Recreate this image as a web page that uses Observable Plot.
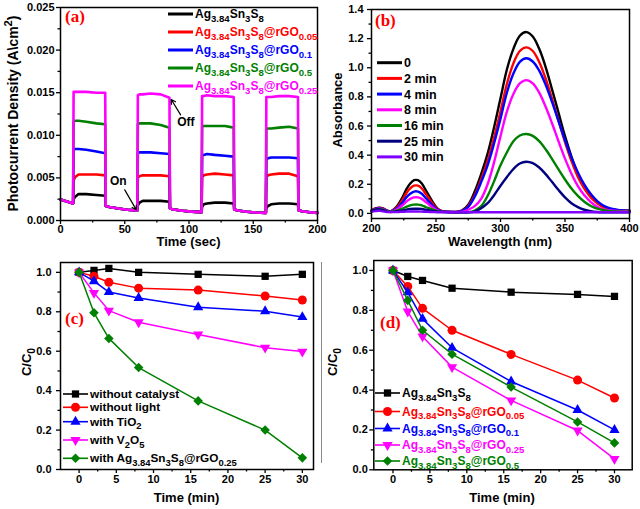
<!DOCTYPE html>
<html><head><meta charset="utf-8">
<script src="https://cdn.jsdelivr.net/npm/d3@7"></script>
<script src="https://cdn.jsdelivr.net/npm/@observablehq/plot@0.6"></script>
<style>
body{margin:0;background:#fff;}
#fig{position:relative;width:640px;height:509px;overflow:hidden;background:#fff;}
#divider{position:absolute;left:321px;top:262px;width:1px;height:201px;background:#8a8a8a;}
</style></head><body><div id="fig"><div id="divider"></div></div>
<script>
const FONT = "'Liberation Sans', Arial, Helvetica, sans-serif";
const SERIF = "'Liberation Serif', 'Times New Roman', serif";
const RED = "#ff0000", BLUE = "#0000ff", MAG = "#ff00ff", GRN = "#008000", NAVY = "#000080", VIO = "#8000ff", BLK = "#000000";

// ---------- Panel (a): photocurrent ----------
const aNames = ["Ag_{3.84}Sn_{3}S_{8}", "Ag_{3.84}Sn_{3}S_{8}@rGO_{0.05}", "Ag_{3.84}Sn_{3}S_{8}@rGO_{0.1}", "Ag_{3.84}Sn_{3}S_{8}@rGO_{0.5}", "Ag_{3.84}Sn_{3}S_{8}@rGO_{0.25}"];
const aColors = [BLK, RED, BLUE, GRN, MAG];
const aOnTimes = [10, 60, 110, 160];
const aCycleOffsets = [0.2, 1.5, 4, 10, 18, 24.8];
const aDark = [
  [[0,0.00246],[5,0.00222],[9.8,0.00200]],
  [[35.2,0.00170],[38,0.00158],[45,0.00140],[52,0.00127],[59.8,0.00118]],
  [[85.2,0.00142],[88,0.00130],[95,0.00114],[102,0.00104],[109.8,0.00098]],
  [[135.2,0.00130],[138,0.00118],[145,0.00103],[152,0.00094],[159.8,0.00090]],
  [[185.2,0.00120],[188,0.00108],[194,0.00096],[200,0.00090]]
];
const aPure = [[0.0025,0.0028,0.0031,0.0031,0.0030,0.0029],[0.0018,0.0021,0.0023,0.0023,0.0023,0.0022],[0.0016,0.0019,0.0020,0.0021,0.0021,0.0020],[0.0015,0.0017,0.0019,0.0020,0.0020,0.0019]];
const aG005 = [[0.0047,0.0051,0.0054,0.0054,0.0054,0.0053],[0.0050,0.0052,0.0053,0.0053,0.0053,0.0052],[0.0051,0.0053,0.0054,0.0055,0.0054,0.0053],[0.0051,0.0053,0.0054,0.0055,0.0055,0.0052]];
const aG01 = [[0.0083,0.0084,0.0084,0.0083,0.0081,0.0079],[0.0079,0.0080,0.0080,0.0080,0.0079,0.0078],[0.0076,0.0077,0.0078,0.0077,0.0076,0.0075],[0.0072,0.0073,0.0074,0.0074,0.0074,0.0073]];
const aG05 = [[0.0116,0.0117,0.0117,0.0116,0.0114,0.0113],[0.0113,0.0114,0.0114,0.0114,0.0112,0.0109],[0.0110,0.0111,0.0111,0.0111,0.0111,0.0109],[0.0107,0.0108,0.0108,0.0109,0.0110,0.0108]];
const aG025 = [[0.0151,0.0151,0.0151,0.0151,0.0150,0.0150],[0.0147,0.0148,0.0148,0.0149,0.0148,0.0144],[0.0146,0.0146,0.0147,0.0146,0.0146,0.0145],[0.0145,0.0145,0.0145,0.0146,0.0146,0.0145]];
const aSeriesValues = [aPure, aG005, aG01, aG05, aG025];
const aNotes = [{t:45, v:0.0046, label:"On"}, {t:97.5, v:0.0115, label:"Off"}];
const aArrows = [{t1:50, v1:0.0036, t2:59, v2:0.00125}, {t1:93.5, v1:0.0124, t2:86.2, v2:0.0142}];
const aXTicks = [0,50,100,150,200], aXMinor = [25,75,125,175];
const aYTicks = [0,0.005,0.01,0.015,0.02,0.025], aYMinor = [0.0025,0.0075,0.0125,0.0175,0.0225];

// ---------- Panel (b): absorbance spectra ----------
const bNames = ["0", "2 min", "4 min", "8 min", "16 min", "25 min", "30 min"];
const bColors = [BLK, RED, BLUE, MAG, GRN, NAVY, VIO];
const bWl = [200,203,206,209,212,215,218,221,224,227,230,233,236,239,242,245,248,251,254,257,260,265,270,275,280,285,290,295,300,305,310,315,320,325,330,335,340,345,350,355,360,365,370,375,380,385,390,395,400];
const b0 = [0.02,0.035,0.04,0.035,0.02, 0.015,0.032,0.065,0.11,0.165,0.205,0.228,0.228,0.205,0.16,0.115,0.07,0.035,0.018,0.012,0.01, 0.01,0.02,0.06,0.15,0.27,0.41,0.59,0.79,0.99,1.13,1.22,1.245, 1.215,1.13,1.005,0.85,0.69,0.53,0.39,0.27,0.18,0.12,0.075,0.045,0.03,0.022,0.02,0.018];
const b2 = [0.02,0.033,0.038,0.033,0.019, 0.014,0.028,0.055,0.093,0.138,0.171,0.19,0.19,0.171,0.134,0.097,0.06,0.031,0.017,0.012,0.01, 0.01,0.017,0.05,0.125,0.235,0.36,0.52,0.70,0.89,1.03,1.115,1.14, 1.115,1.04,0.925,0.785,0.635,0.49,0.36,0.25,0.17,0.11,0.07,0.043,0.03,0.023,0.02,0.018];
const b4 = [0.02,0.03,0.035,0.03,0.018, 0.013,0.024,0.045,0.074,0.11,0.135,0.15,0.15,0.135,0.106,0.077,0.049,0.026,0.015,0.011,0.01, 0.01,0.015,0.045,0.115,0.215,0.33,0.48,0.65,0.83,0.96,1.04,1.065, 1.043,0.98,0.883,0.764,0.633,0.503,0.383,0.281,0.197,0.133,0.085,0.053,0.035,0.026,0.021,0.019];
const b8 = [0.018,0.028,0.032,0.028,0.016, 0.012,0.02,0.035,0.056,0.081,0.1,0.11,0.11,0.1,0.079,0.058,0.038,0.021,0.014,0.011,0.01, 0.008,0.01,0.025,0.05,0.10,0.20,0.35,0.53,0.70,0.82,0.892,0.915, 0.893,0.829,0.732,0.617,0.494,0.376,0.273,0.188,0.124,0.078,0.046,0.028,0.02,0.016,0.015,0.014];
const b16 = [0.015,0.025,0.03,0.025,0.014, 0.011,0.015,0.023,0.033,0.045,0.055,0.06,0.06,0.055,0.044,0.034,0.024,0.016,0.012,0.01,0.01, 0.008,0.007,0.008,0.02,0.05,0.12,0.22,0.33,0.42,0.495,0.535,0.545, 0.532,0.496,0.44,0.373,0.302,0.233,0.171,0.12,0.08,0.051,0.033,0.022,0.016,0.013,0.012,0.012];
const b25 = [0.015,0.025,0.028,0.022,0.012, 0.01,0.012,0.016,0.02,0.026,0.03,0.032,0.032,0.03,0.025,0.02,0.016,0.012,0.011,0.01,0.01, 0.008,0.007,0.007,0.012,0.035,0.07,0.125,0.19,0.25,0.305,0.343,0.355, 0.345,0.315,0.27,0.215,0.16,0.11,0.07,0.043,0.025,0.015,0.01,0.008,0.007,0.007,0.007,0.007];
const b30 = [0.012,0.016,0.018,0.014,0.01, 0.009,0.009,0.01,0.011,0.012,0.013,0.013,0.013,0.012,0.011,0.01,0.009,0.008,0.008,0.008,0.008, 0.008,0.008,0.008,0.008,0.008,0.008,0.008,0.008,0.008,0.008,0.008,0.008, 0.008,0.008,0.008,0.008,0.008,0.008,0.008,0.008,0.008,0.008,0.008,0.008,0.008,0.008,0.008,0.008];
const bSeriesValues = [b0, b2, b4, b8, b16, b25, b30];
const bXTicks = [200,250,300,350,400], bXMinor = [225,275,325,375];
const bYTicks = [0,0.2,0.4,0.6,0.8,1.0,1.2,1.4], bYMinor = [0.1,0.3,0.5,0.7,0.9,1.1,1.3];

// ---------- Panel (c): control degradation ----------
const cTime = [0,2,4,8,16,25,30];
const cNames = ["without catalyst", "without light", "with TiO_{2}", "with V_{2}O_{5}", "with Ag_{3.84}Sn_{3}S_{8}@rGO_{0.25}"];
const cNoCat = [1.0,1.01,1.02,1.0,0.99,0.98,0.99];
const cNoLight = [1.0,0.98,0.95,0.92,0.91,0.88,0.86];
const cTiO2 = [1.0,0.955,0.90,0.87,0.823,0.803,0.773];
const cV2O5 = [1.0,0.896,0.806,0.747,0.685,0.618,0.598];
const cComp = [1.0,0.795,0.665,0.517,0.348,0.20,0.059];
const cSeriesValues = [cNoCat, cNoLight, cTiO2, cV2O5, cComp];
const cColors = [BLK, RED, BLUE, MAG, GRN];

// ---------- Panel (d): composite degradation ----------
const dTime = [0,2,4,8,16,25,30];
const dNames = ["Ag_{3.84}Sn_{3}S_{8}", "Ag_{3.84}Sn_{3}S_{8}@rGO_{0.05}", "Ag_{3.84}Sn_{3}S_{8}@rGO_{0.1}", "Ag_{3.84}Sn_{3}S_{8}@rGO_{0.25}", "Ag_{3.84}Sn_{3}S_{8}@rGO_{0.5}"];
const dPure = [1.0,0.97,0.95,0.911,0.891,0.88,0.87];
const d005 = [1.0,0.92,0.81,0.70,0.579,0.45,0.36];
const d01 = [1.0,0.89,0.757,0.612,0.443,0.30,0.20];
const d025 = [1.0,0.794,0.669,0.515,0.348,0.197,0.055];
const d05 = [1.0,0.85,0.70,0.58,0.415,0.24,0.135];
const dSeriesValues = [dPure, d005, d01, d025, d05];
const dColors = [BLK, RED, BLUE, MAG, GRN];

const cdXTicks = [0,5,10,15,20,25,30], cdXMinor = [2.5,7.5,12.5,17.5,22.5,27.5];
const cdYTicks = [0,0.2,0.4,0.6,0.8,1.0], cdYMinor = [0.1,0.3,0.5,0.7,0.9];

// ---------- helpers ----------
const sqrt3 = Math.sqrt(3);
const triangleDown = {draw(ctx, size) { const y = -Math.sqrt(size / (sqrt3 * 3)); ctx.moveTo(0, -y * 2); ctx.lineTo(-sqrt3 * y, y); ctx.lineTo(sqrt3 * y, y); ctx.closePath(); }};
const markerSyms = [d3.symbolSquare, d3.symbolCircle, d3.symbolTriangle, triangleDown, d3.symbolDiamond2];
const markerPlotSyms = ["square", "circle", "triangle", triangleDown, "diamond2"];
const markerR = [4.1, 4.5, 3.8, 3.8, 4.3];

function rich(sel, str, x, y, opts = {}) {
  const size = opts.size || 12;
  const t = sel.append("text").attr("x", x).attr("y", y)
    .attr("font-family", opts.family || FONT).attr("font-weight", "bold")
    .attr("font-size", size).attr("fill", opts.fill || "black")
    .attr("text-anchor", opts.anchor || "start");
  if (opts.rotate) t.attr("transform", `rotate(${opts.rotate},${x},${y})`);
  const re = /([_^])\{([^}]*)\}|([^_^]+)/g;
  let m, shift = 0;
  while ((m = re.exec(str))) {
    if (m[3]) {
      const ts = t.append("tspan").text(m[3]);
      if (shift) { ts.attr("dy", -shift); shift = 0; }
    } else {
      const d = m[1] === "_" ? size * 0.3 : -size * 0.4;
      t.append("tspan").text(m[2]).attr("font-size", size * 0.8).attr("dy", d - shift);
      shift = d;
    }
  }
  return t;
}

function axes(xMajor, xMinor, yMajor, yMinor, xFmt, yFmt, xPad, yPad) {
  return [
    Plot.axisX({ticks: xMajor, tickFormat: xFmt, tickSize: 4, tickPadding: xPad, label: null, strokeWidth: 1.3, fontSize: 11}),
    Plot.axisX({ticks: xMinor, tickFormat: () => "", tickSize: 2.5, label: null, strokeWidth: 1.3}),
    Plot.axisY({ticks: yMajor, tickFormat: yFmt, tickSize: 4, tickPadding: yPad, label: null, strokeWidth: 1.3, fontSize: 11}),
    Plot.axisY({ticks: yMinor, tickFormat: () => "", tickSize: 2.5, label: null, strokeWidth: 1.3}),
    Plot.frame({stroke: "black", strokeWidth: 1.5})
  ];
}
const baseStyle = {fontFamily: FONT, fontSize: "11px", fontWeight: "bold", color: "black", background: "transparent", overflow: "visible"};

function place(svg, left, top) {
  svg.style.position = "absolute";
  svg.style.left = left + "px";
  svg.style.top = top + "px";
  svg.style.maxWidth = "none";
  document.getElementById("fig").appendChild(svg);
  return d3.select(svg);
}

// ---------- build panel (a) ----------
const aData = aSeriesValues.map((cycles, si) => {
  const pts = [];
  for (let k = 0; k < aDark.length; k++) {
    aDark[k].forEach(([t, v]) => pts.push({t, v}));
    if (k < aOnTimes.length) aCycleOffsets.forEach((o, j) => pts.push({t: aOnTimes[k] + o, v: cycles[k][j]}));
  }
  return pts;
});
const svgA = Plot.plot({
  width: 320, height: 252, marginLeft: 60, marginRight: 3, marginTop: 7, marginBottom: 32,
  x: {domain: [0, 200], label: null}, y: {domain: [0, 0.025], label: null},
  style: baseStyle,
  marks: [
    ...aData.map((pts, i) => Plot.line(pts, {x: "t", y: "v", stroke: aColors[i], strokeWidth: 2.6})),
    Plot.arrow(aArrows, {x1: "t1", y1: "v1", x2: "t2", y2: "v2", stroke: "black", strokeWidth: 1.2, headLength: 6}),
    Plot.text(aNotes, {x: "t", y: "v", text: "label", fontSize: 12, fontWeight: "bold"}),
    ...axes(aXTicks, aXMinor, aYTicks, aYMinor, "d", ".3f", 1, 2)
  ]
});
const ga = place(svgA, 0, 0);
aNames.forEach((n, i) => {
  const y = 14 + i * 18;
  ga.append("line").attr("x1", 168).attr("x2", 193).attr("y1", y).attr("y2", y).attr("stroke", aColors[i]).attr("stroke-width", 3);
  rich(ga, n, 195, y + 4.2, {size: 12, fill: aColors[i]});
});
rich(ga, "Time (sec)", 188.5, 246, {size: 13, anchor: "middle"});
rich(ga, "Photocurrent Density (A\\cm^{2})", 18, 113.5, {size: 14, anchor: "middle", rotate: -90});
rich(ga, "(a)", 65, 22, {size: 17, fill: RED, family: SERIF});

// ---------- build panel (b) ----------
const svgB = Plot.plot({
  width: 320, height: 252, marginLeft: 51, marginRight: 11, marginTop: 9, marginBottom: 34,
  x: {domain: [200, 400], label: null}, y: {domain: [-0.035, 1.4], label: null},
  style: baseStyle,
  marks: [
    ...bSeriesValues.map((vals, i) => Plot.line(bWl.map((w, j) => ({w, a: vals[j]})), {x: "w", y: "a", stroke: bColors[i], strokeWidth: 2.4, curve: "catmull-rom"})),
    ...axes(bXTicks, bXMinor, bYTicks, bYMinor, "d", ".1f", 2, 4)
  ]
});
const gb = place(svgB, 320, 0);
bNames.forEach((n, i) => {
  const y = 62.7 + i * 15.7;
  gb.append("line").attr("x1", 57).attr("x2", 82).attr("y1", y).attr("y2", y).attr("stroke", bColors[i]).attr("stroke-width", 3);
  rich(gb, n, 84, y + 4.5, {size: 12.5});
});
rich(gb, "Wavelength (nm)", 180, 246, {size: 13, anchor: "middle"});
rich(gb, "Absorbance", 22, 110, {size: 13, anchor: "middle", rotate: -90});
rich(gb, "(b)", 55, 26, {size: 17, fill: RED, family: SERIF});

// ---------- panels (c) and (d) ----------
function kineticPanel(times, seriesValues, colors, opts) {
  return Plot.plot({
    width: 320, height: 257, marginLeft: opts.ml, marginRight: opts.mr, marginTop: opts.mt, marginBottom: opts.mb,
    x: {domain: opts.xd, label: null}, y: {domain: [0, 1.05], label: null},
    style: baseStyle,
    marks: [
      ...seriesValues.flatMap((vals, i) => {
        const pts = times.map((t, j) => ({t, c: vals[j]}));
        return [
          Plot.line(pts, {x: "t", y: "c", stroke: colors[i], strokeWidth: 1.5}),
          Plot.dot(pts, {x: "t", y: "c", fill: colors[i], stroke: "none", symbol: markerPlotSyms[i], r: markerR[i]})
        ];
      }),
      ...axes(cdXTicks, cdXMinor, cdYTicks, cdYMinor, "d", ".1f", 1.5, opts.yPad)
    ]
  });
}
function markerLegend(g, names, colors, rows, x0, x1, tx, size, textColors) {
  names.forEach((n, i) => {
    const y = rows[i];
    g.append("line").attr("x1", x0).attr("x2", x1).attr("y1", y).attr("y2", y).attr("stroke", colors[i]).attr("stroke-width", 1.6);
    g.append("path").attr("d", d3.symbol(markerSyms[i], Math.PI * markerR[i] * markerR[i])())
      .attr("transform", `translate(${(x0 + x1) / 2},${y})`).attr("fill", colors[i]);
    rich(g, n, tx, y + size * 0.35, {size, fill: textColors[i]});
  });
}

const svgC = kineticPanel(cTime, cSeriesValues, cColors, {ml: 60, mr: 7, mt: 10, mb: 40, xd: [-2.5, 31.5], yPad: 5});
const gc = place(svgC, 0, 252);
markerLegend(gc, cNames, cColors, [142, 155.3, 169.7, 188, 206.3], 63, 88, 90, 11.8, [BLK, BLK, BLK, BLK, BLK]);
rich(gc, "Time (min)", 186.5, 250, {size: 13, anchor: "middle"});
rich(gc, "C/C_{0}", 31, 110, {size: 13, anchor: "middle", rotate: -90});
rich(gc, "(c)", 65, 72, {size: 17, fill: RED, family: SERIF});

const svgD = kineticPanel(dTime, dSeriesValues, dColors, {ml: 53.3, mr: 8.3, mt: 8, mb: 39.7, xd: [-2.6, 32.4], yPad: 2});
const gd = place(svgD, 320, 252);
markerLegend(gd, dNames, dColors, [141, 159.5, 176.5, 193, 209], 55, 80, 82, 12, dColors);
rich(gd, "Time (min)", 182, 250, {size: 13, anchor: "middle"});
rich(gd, "C/C_{0}", 17, 110, {size: 13, anchor: "middle", rotate: -90});
rich(gd, "(d)", 60, 76, {size: 17, fill: RED, family: SERIF});
</script></body></html>
